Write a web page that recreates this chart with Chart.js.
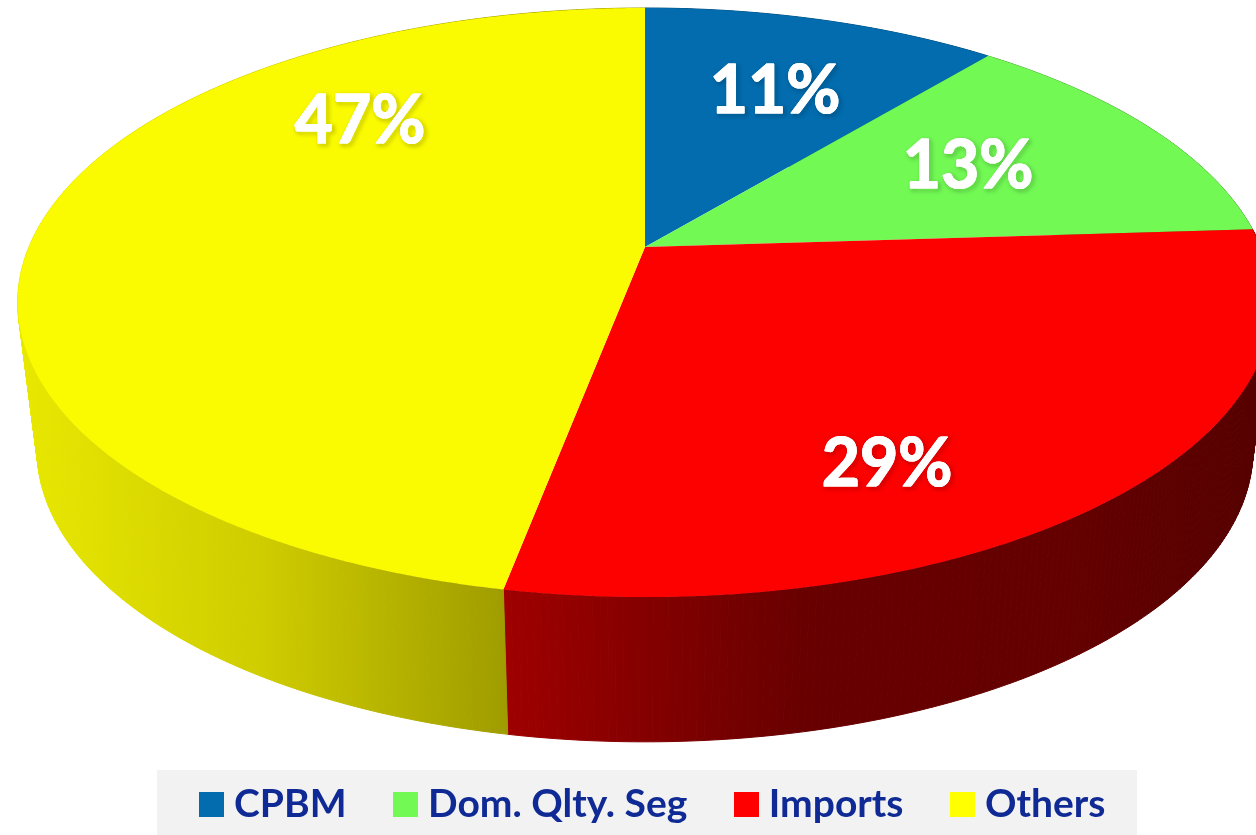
<!DOCTYPE html>
<html><head><meta charset="utf-8">
<style>html,body{margin:0;padding:0;background:#fff}canvas{display:block}</style>
<script src="https://cdn.jsdelivr.net/npm/chart.js@4"></script></head>
<body><canvas id="c" width="1256" height="835"></canvas>
<script>
const categories = ['CPBM', 'Dom. Qlty. Seg', 'Imports', 'Others'];
const shares = [11, 13, 29, 47];
const tickLabels = ['11%', '13%', '29%', '47%'];
const topColors = ['#026cae', '#72f954', '#fd0000', '#fafa00'];
const legendColors = ['#026cae', '#72f954', '#ff0000', '#ffff00'];
const wallStops = [
  [[0,'#01507f'],[1,'#01507f']],
  [[0,'#4fae3a'],[1,'#4fae3a']],
  [[0,'#9f0000'],[0.26,'#7a0000'],[0.4,'#680000'],[0.75,'#640000'],[1,'#560000']],
  [[0,'#e8e800'],[0.5,'#cfcc00'],[1,'#9f9c00']]
];
const wallSpan = [[645,1256],[645,1256],[505,1256],[18,507]];
const labelAnchors = [[775,92],[968,167],[887,465],[360,122]];

// perspective disc projection
const CX = 645, K = -0.1885;
const topDisc = {R:616, A:237.5, B:247};
const baseDisc = {R:597, A:207, B:395};
function proj(d, th){
  const u = Math.sin(th), v = -Math.cos(th), w = 1 + K*v;
  return [CX + d.R*u/w, (d.A*v + d.B)/w];
}
function rim(ctx, d, a, b, first){
  const n = Math.max(8, Math.ceil(Math.abs(b-a)/0.005));
  for(let i=0;i<=n;i++){
    const p = proj(d, a+(b-a)*i/n);
    if(i===0 && first) ctx.moveTo(p[0],p[1]); else ctx.lineTo(p[0],p[1]);
  }
}
const pie3d = {
  id:'pie3d',
  beforeDraw(chart){
    const ctx = chart.ctx;
    ctx.fillStyle = '#f2f2f2';
    ctx.fillRect(157,770,980,65);
  },
  afterLayout(chart){
    const lg = chart.legend;
    lg.top = 728.5;
    lg.bottom = 835;
    lg.left += 29;
    lg.right += 29;
  },
  beforeDatasetDraw(chart, args){
    const ctx = chart.ctx, arcs = args.meta.data;
    ctx.save();
    arcs.forEach((arc,i)=>{
      const a = arc.startAngle + Math.PI/2, b = arc.endAngle + Math.PI/2;
      const g = ctx.createLinearGradient(wallSpan[i][0],0,wallSpan[i][1],0);
      wallStops[i].forEach(s=>g.addColorStop(s[0],s[1]));
      ctx.fillStyle = g;
      ctx.strokeStyle = g;
      ctx.lineWidth = 1;
      const n = Math.ceil((b-a)/0.01);
      for(let j=0;j<n;j++){
        const t0 = a+(b-a)*j/n, t1 = a+(b-a)*(j+1)/n;
        const p = [proj(topDisc,t0),proj(topDisc,t1),proj(baseDisc,t1),proj(baseDisc,t0)];
        ctx.beginPath();
        ctx.moveTo(p[0][0],p[0][1]);
        for(let q=1;q<4;q++) ctx.lineTo(p[q][0],p[q][1]);
        ctx.closePath();
        ctx.fill();
        ctx.stroke();
      }
    });
    arcs.forEach((arc,i)=>{
      const a = arc.startAngle + Math.PI/2, b = arc.endAngle + Math.PI/2;
      ctx.beginPath();
      ctx.moveTo(CX, topDisc.B);
      rim(ctx, topDisc, a, b, false);
      ctx.closePath();
      ctx.fillStyle = topColors[i];
      ctx.fill();
    });
    ctx.restore();
    return false;
  },
  afterDatasetsDraw(chart){
    const ctx = chart.ctx;
    ctx.save();
    ctx.font = 'bold 66px Lato';
    ctx.textAlign = 'center';
    ctx.textBaseline = 'middle';
    ctx.fillStyle = '#ffffff';
    ctx.strokeStyle = '#ffffff';
    ctx.lineWidth = 1.2;
    ctx.lineJoin = 'round';
    tickLabels.forEach((t,i)=>{
      ctx.shadowColor = 'rgba(0,0,0,0.55)';
      ctx.shadowBlur = 4;
      ctx.shadowOffsetX = 2;
      ctx.shadowOffsetY = 2;
      ctx.strokeText(t,labelAnchors[i][0],labelAnchors[i][1]);
      ctx.shadowColor = 'transparent';
      ctx.fillText(t,labelAnchors[i][0],labelAnchors[i][1]);
      ctx.strokeText(t,labelAnchors[i][0],labelAnchors[i][1]);
    });
    ctx.restore();
  }
};
function swatch(color){
  const s = document.createElement('canvas');
  s.width = 25; s.height = 25;
  const x = s.getContext('2d');
  x.fillStyle = color; x.fillRect(0,0,25,25);
  return s;
}
new Chart(document.getElementById('c'),{
  type:'pie',
  data:{labels:categories,datasets:[{data:shares,backgroundColor:topColors,borderWidth:0}]},
  plugins:[pie3d],
  options:{
    responsive:false,animation:false,devicePixelRatio:1,
    layout:{padding:0},
    plugins:{
      tooltip:{enabled:false},
      legend:{
        position:'bottom',align:'center',
        labels:{
          usePointStyle:true,pointStyleWidth:6,padding:56,color:'#0f2a94',
          font:{family:'Lato',size:39,weight:'bold'},
          generateLabels(){
            return categories.map((c,i)=>({text:c,pointStyle:swatch(legendColors[i]),lineWidth:0,fontColor:'#0f2a94',index:i,hidden:false}));
          }
        }
      }
    }
  }
});
</script></body></html>
